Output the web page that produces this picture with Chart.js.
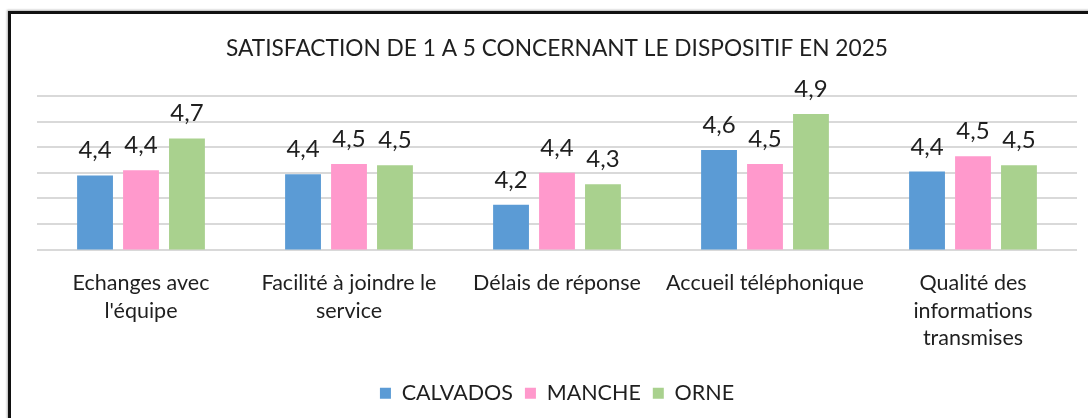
<!DOCTYPE html>
<html lang="fr">
<head>
<meta charset="utf-8">
<script src="https://cdn.jsdelivr.net/npm/chart.js@4.4.1/dist/chart.umd.min.js"></script>
<style>
  html, body { margin: 0; padding: 0; background: #fff; }
  #wrap { position: relative; width: 1088px; height: 418px; overflow: hidden; }
  #frame {
    position: absolute; left: 8px; top: 11px; width: 1200px; height: 600px;
    border-left: 3px solid #111; border-top: 3px solid #111;
    box-shadow: -1px -1px 2px rgba(0,0,0,0.3);
    pointer-events: none;
  }
</style>
</head>
<body>
<div id="wrap">
  <canvas id="chart" width="1088" height="418"></canvas>
  <div id="frame"></div>
</div>
<script>
// Catégories (étiquettes sur plusieurs lignes)
const categories = [
    ['Echanges avec', "l'équipe"],
    ['Facilité à joindre le', 'service'],
    ['Délais de réponse'],
    ['Accueil téléphonique'],
    ['Qualité des', 'informations', 'transmises']
];
const calvados = [4.38, 4.39, 4.15, 4.58, 4.41];
const manche = [4.42, 4.47, 4.40, 4.47, 4.53];
const orne = [4.67, 4.46, 4.31, 4.86, 4.46];

const yMin = 3.8;
const yMax = 5.0;
const yStep = 0.2;

const textColor = '#1f1f1f';
const fontFamily = 'Lato, "Open Sans", sans-serif';

// Étiquettes de valeurs au-dessus des barres
const valueLabels = {
    id: 'valueLabels',
    afterDatasetsDraw(chart) {
        const ctx = chart.ctx;
        ctx.save();
        ctx.font = '24px ' + fontFamily;
        ctx.fillStyle = textColor;
        ctx.textAlign = 'center';
        ctx.textBaseline = 'alphabetic';
        chart.data.datasets.forEach(function (ds, i) {
            chart.getDatasetMeta(i).data.forEach(function (bar, j) {
                const txt = ds.data[j].toFixed(1).replace('.', ',');
                ctx.fillText(txt, bar.x, bar.y - 17);
            });
        });
        ctx.restore();
    }
};

const ctx = document.getElementById('chart').getContext('2d');
new Chart(ctx, {
    type: 'bar',
    data: {
        labels: categories,
        datasets: [
            { label: 'CALVADOS', data: calvados, backgroundColor: '#5B9BD5' },
            { label: 'MANCHE', data: manche, backgroundColor: '#FF99CC' },
            { label: 'ORNE', data: orne, backgroundColor: '#A9D18E' }
        ]
    },
    options: {
        responsive: false,
        animation: false,
        layout: { padding: { left: 37, right: 11, top: 0, bottom: 4 } },
        datasets: {
            bar: { categoryPercentage: 0.663, barPercentage: 0.78 }
        },
        scales: {
            x: {
                grid: { display: false },
                border: { display: false },
                ticks: {
                    color: textColor,
                    font: { family: fontFamily, size: 21.5, lineHeight: 1.28 },
                    padding: 12,
                    maxRotation: 0,
                    autoSkip: false
                },
                afterFit: function (scale) { scale.height = 121; }
            },
            y: {
                min: yMin,
                max: yMax,
                ticks: { display: false, stepSize: yStep },
                grid: { color: '#D9D9D9', lineWidth: 2, drawTicks: false },
                border: { display: false }
            }
        },
        plugins: {
            title: {
                display: true,
                text: 'SATISFACTION DE 1 A 5 CONCERNANT LE DISPOSITIF EN 2025',
                color: textColor,
                font: { family: fontFamily, size: 22.7, weight: 'normal', lineHeight: 1.2 },
                padding: { top: 35, bottom: 34 }
            },
            legend: {
                position: 'bottom',
                labels: {
                    color: textColor,
                    font: { family: fontFamily, size: 21.5 },
                    boxWidth: 11,
                    boxHeight: 11,
                    padding: 12
                }
            },
            tooltip: { enabled: false }
        }
    },
    plugins: [valueLabels]
});
</script>
</body>
</html>
